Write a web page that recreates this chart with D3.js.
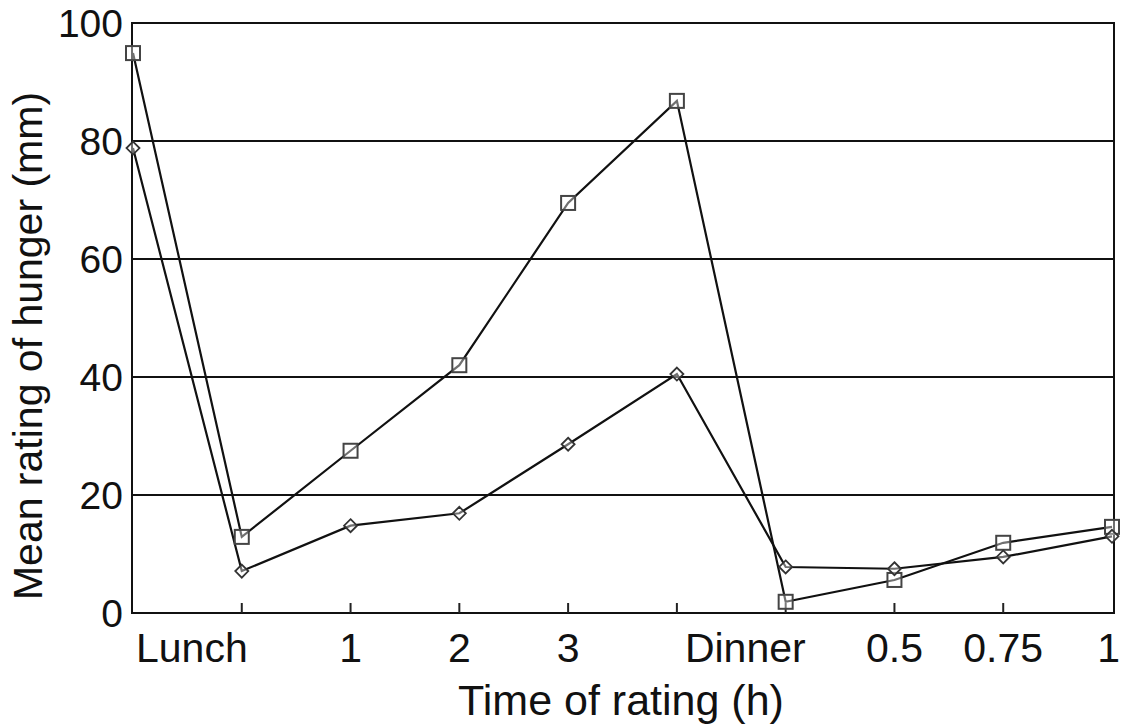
<!DOCTYPE html>
<html>
<head>
<meta charset="utf-8">
<script src="https://cdn.jsdelivr.net/npm/d3@7/dist/d3.min.js"></script>
<style>
  html, body { margin: 0; padding: 0; background: #fff; }
  svg text { font-family: "Liberation Sans", Arial, Helvetica, sans-serif; fill: #111; }
</style>
</head>
<body>
<svg id="chart" width="1121" height="725"></svg>
<script>
// ---- data ----
const timepoints = ["pre-lunch", "lunch", "1h", "2h", "3h", "pre-dinner", "dinner", "0.5h", "0.75h", "1h-post"];
const squareSeries = [94.9, 12.9, 27.5, 42.0, 69.5, 86.8, 1.9, 5.6, 11.9, 14.6];
const diamondSeries = [78.8, 7.1, 14.8, 16.9, 28.6, 40.5, 7.8, 7.5, 9.5, 13.0];
// tick labels: text shown under the axis, and the timepoint they belong to
const xTickLabels = ["Lunch", "1", "2", "3", "Dinner", "0.5", "0.75", "1"];
const xTickLabelAt = ["pre-lunch", "1h", "2h", "3h", "pre-dinner", "0.5h", "0.75h", "1h-post"];
const yTicks = [0, 20, 40, 60, 80, 100];
const xTitle = "Time of rating (h)";
const yTitle = "Mean rating of hunger (mm)";

// ---- layout ----
const margin = { left: 132, right: 7, top: 23, bottom: 112 };
const W = 1121, H = 725;
const svg = d3.select("#chart");
const plotW = W - margin.left - margin.right;
const plotH = H - margin.top - margin.bottom;

const x = d3.scalePoint().domain(timepoints).range([margin.left + 1, margin.left + plotW - 2]);
const y = d3.scaleLinear().domain([0, 100]).range([margin.top + plotH, margin.top]);

// gridlines
svg.append("g").selectAll("line").data(yTicks.filter(d => d > 0 && d < 100)).join("line")
  .attr("x1", margin.left).attr("x2", margin.left + plotW)
  .attr("y1", d => y(d)).attr("y2", d => y(d))
  .attr("stroke", "#111").attr("stroke-width", 1.8);

// frame
svg.append("rect")
  .attr("x", margin.left).attr("y", margin.top)
  .attr("width", plotW).attr("height", plotH)
  .attr("fill", "none").attr("stroke", "#111").attr("stroke-width", 2);

// x inward ticks (inner timepoints)
svg.append("g").selectAll("line").data(timepoints.slice(1, -1)).join("line")
  .attr("x1", d => x(d)).attr("x2", d => x(d))
  .attr("y1", y(0)).attr("y2", y(0) - 10)
  .attr("stroke", "#222").attr("stroke-width", 2);

// y tick labels
svg.append("g").selectAll("text").data(yTicks).join("text")
  .attr("x", margin.left - 9).attr("y", d => y(d))
  .attr("dy", "0.36em")
  .attr("text-anchor", "end")
  .attr("font-size", 39)
  .text(d => d);

// x tick labels
const wordLabels = new Set(["Lunch", "Dinner"]);
const lastIdx = xTickLabels.length - 1;
svg.append("g").selectAll("text").data(xTickLabels).join("text")
  .attr("x", (d, i) => {
    if (wordLabels.has(d)) return x(xTickLabelAt[i]) + (d === "Lunch" ? 3 : 8);
    if (i === lastIdx) return W - 1;
    return x(xTickLabelAt[i]);
  })
  .attr("y", 662)
  .attr("text-anchor", (d, i) => wordLabels.has(d) ? "start" : (i === lastIdx ? "end" : "middle"))
  .attr("font-size", 41)
  .text(d => d);

// axis titles
svg.append("text")
  .attr("x", 621).attr("y", 715)
  .attr("text-anchor", "middle")
  .attr("font-size", 43)
  .text(xTitle);

svg.append("text")
  .attr("transform", "translate(42,346) rotate(-90)")
  .attr("text-anchor", "middle")
  .attr("font-size", 41)
  .text(yTitle);

// lines
const line = d3.line().x((d, i) => x(timepoints[i])).y(d => y(d));
[squareSeries, diamondSeries].forEach(s => {
  svg.append("path").datum(s)
    .attr("d", line)
    .attr("fill", "none").attr("stroke", "#111").attr("stroke-width", 2.2);
});

// markers
const sq = 14;
svg.append("g").selectAll("rect").data(squareSeries).join("rect")
  .attr("x", (d, i) => x(timepoints[i]) - sq / 2)
  .attr("y", d => y(d) - sq / 2)
  .attr("width", sq).attr("height", sq)
  .attr("fill", "#fff").attr("fill-opacity", 0.4)
  .attr("stroke", "#444").attr("stroke-width", 2);

const dm = 6.5;
svg.append("g").selectAll("path").data(diamondSeries).join("path")
  .attr("transform", (d, i) => `translate(${x(timepoints[i])},${y(d)})`)
  .attr("d", `M0,${-dm}L${dm},0L0,${dm}L${-dm},0Z`)
  .attr("fill", "#fff").attr("fill-opacity", 0.4)
  .attr("stroke", "#333").attr("stroke-width", 1.8);
</script>
</body>
</html>
